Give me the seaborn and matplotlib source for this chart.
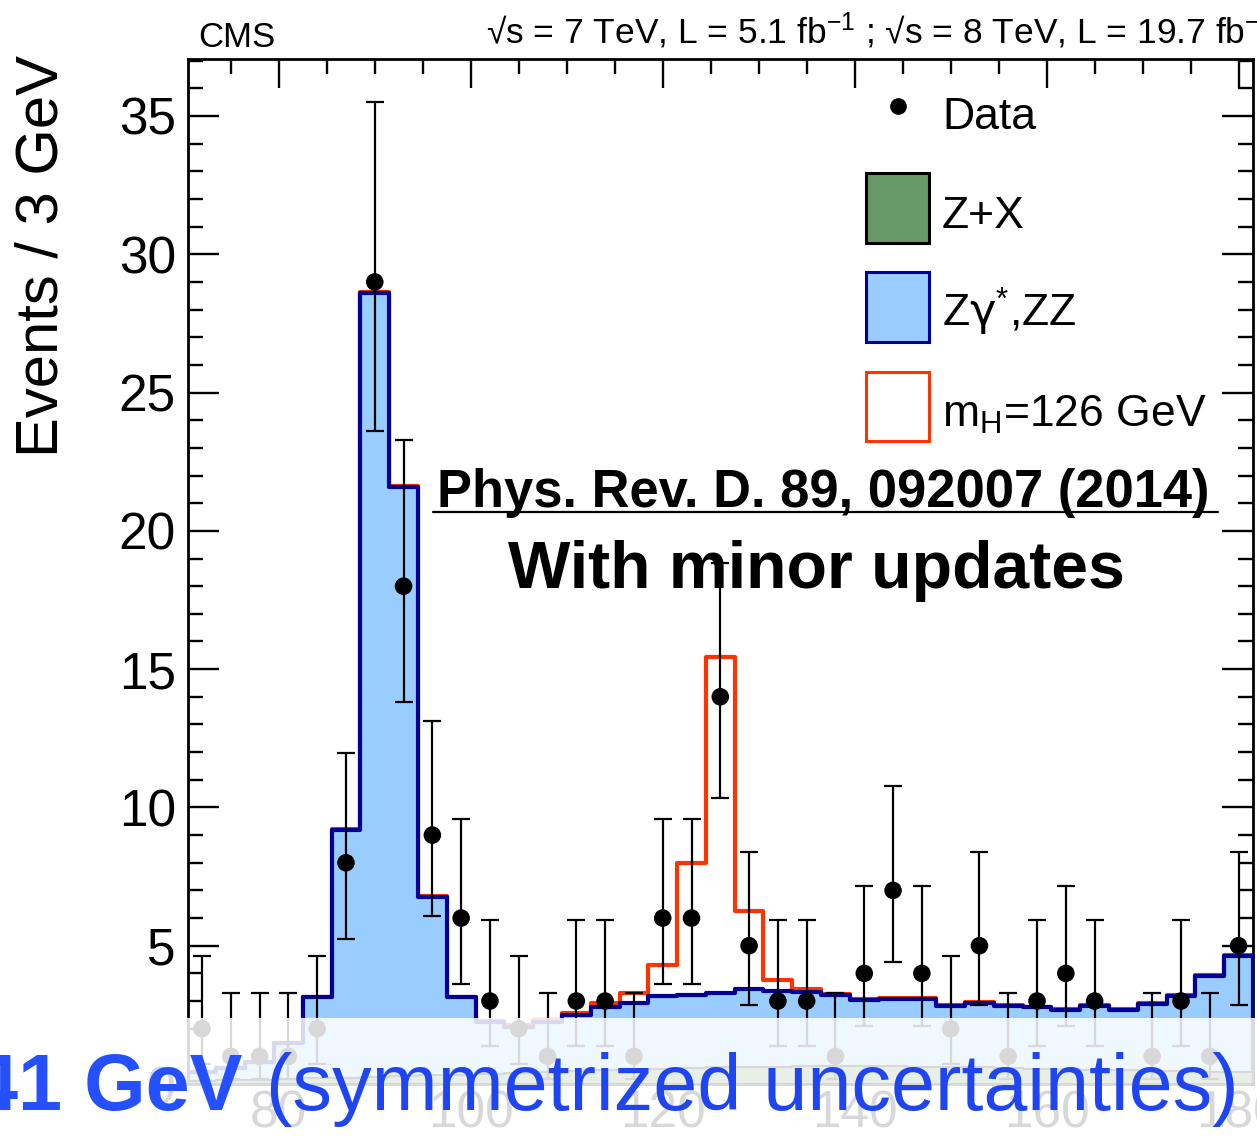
import numpy as np
import pandas as pd
import matplotlib
matplotlib.use("Agg")
import matplotlib.pyplot as plt
import seaborn as sns
from matplotlib.lines import Line2D
from matplotlib.patches import Patch, Rectangle
from matplotlib.legend_handler import HandlerPatch
from matplotlib.ticker import MultipleLocator

# ---------------- data ----------------
bin_edges = list(np.arange(70.5, 182.0, 3.0))          # 37 bins of 3 GeV
bin_centers = 0.5 * (np.array(bin_edges[:-1]) + np.array(bin_edges[1:]))

data_counts = [2, 1, 1, 1, 2, 8, 29, 18, 9, 6, 3, 2, 1, 3, 3, 1, 6, 6, 14, 5, 3, 3, 1,
               4, 7, 4, 2, 5, 1, 3, 4, 3, 0, 1, 3, 1, 5]
data_err_lo = [1.29, 0.83, 0.83, 0.83, 1.29, 2.77, 5.4, 4.2, 2.94, 2.38, 1.63, 1.29, 0.83,
               1.63, 1.63, 0.83, 2.38, 2.38, 3.65, 2.16, 1.63, 1.63, 0.83, 1.91, 2.58, 1.91,
               1.29, 2.16, 0.83, 1.63, 1.91, 1.63, 0.0, 0.83, 1.63, 0.83, 2.16]
data_err_hi = [2.64, 2.30, 2.30, 2.30, 2.64, 3.95, 6.5, 5.3, 4.11, 3.58, 2.92, 2.64, 2.30,
               2.92, 2.92, 2.30, 3.58, 3.58, 4.84, 3.38, 2.92, 2.92, 2.30, 3.16, 3.77, 3.16,
               2.64, 3.38, 2.30, 2.92, 3.16, 2.92, 0.0, 2.30, 2.92, 2.30, 3.38]

zx_yield = [0.12, 0.14, 0.16, 0.18, 0.20, 0.23, 0.26, 0.28, 0.31, 0.34, 0.37, 0.40, 0.43,
            0.47, 0.50, 0.53, 0.56, 0.58, 0.60, 0.62, 0.63, 0.64, 0.65, 0.65, 0.64, 0.63,
            0.62, 0.60, 0.58, 0.56, 0.54, 0.52, 0.50, 0.48, 0.46, 0.44, 0.42]
zz_yield = [0.31, 0.43, 0.64, 1.30, 2.93, 8.97, 28.34, 21.32, 6.46, 2.79, 1.88, 1.67, 1.82,
            2.03, 2.30, 2.39, 2.62, 2.64, 2.68, 2.80, 2.74, 2.70, 2.57, 2.39, 2.43, 2.44,
            2.21, 2.32, 2.25, 2.21, 2.14, 2.31, 2.18, 2.41, 2.73, 3.46, 4.21]
higgs_yield = [0.0, 0.0, 0.0, 0.0, 0.0, 0.01, 0.02, 0.02, 0.02, 0.03, 0.04, 0.05, 0.06,
               0.08, 0.14, 0.36, 1.12, 4.78, 12.16, 2.83, 0.39, 0.08, 0.05, 0.03, 0.03, 0.03,
               0.03, 0.03, 0.03, 0.03, 0.03, 0.03, 0.03, 0.03, 0.03, 0.03, 0.03]

y_ticks = [0, 5, 10, 15, 20, 25, 30, 35]
x_ticks = [80, 100, 120, 140, 160, 180]

data_label = "Data"
bkg_labels = ["Z+X", "Z$\\mathsf{\\gamma}^{*}$,ZZ", "m$_{\\mathrm{H}}$=126 GeV"]

# ---------------- style ----------------
sns.set_style("white")
plt.rcParams["font.family"] = ["Liberation Sans", "DejaVu Sans"]
plt.rcParams["mathtext.fontset"] = "custom"
plt.rcParams["mathtext.rm"] = "Liberation Sans"
plt.rcParams["mathtext.it"] = "Liberation Sans:italic"
plt.rcParams["mathtext.bf"] = "Liberation Sans:bold"
plt.rcParams["mathtext.sf"] = "DejaVu Sans"
for key in ["text.color", "axes.labelcolor", "xtick.color", "ytick.color",
            "axes.edgecolor"]:
    plt.rcParams[key] = "black"

W, H = 1257, 1148
fig = plt.figure(figsize=(W / 100, H / 100), dpi=100)
fig.patch.set_facecolor("white")

ax_l, ax_r, ax_t, ax_b = 187.6, 1253.0, 59.3, 1084.0
ax = fig.add_axes([ax_l / W, 1 - ax_b / H, (ax_r - ax_l) / W, (ax_b - ax_t) / H])

df = pd.DataFrame({
    "mass": bin_centers,
    "total": np.array(zx_yield) + np.array(zz_yield) + np.array(higgs_yield),
    "bkg": np.array(zx_yield) + np.array(zz_yield),
    "zx": np.array(zx_yield),
})

# stacked histogram drawn as cumulative layers (top layer first)
sns.histplot(data=df, x="mass", weights="total", bins=bin_edges, element="step",
             fill=True, facecolor="white", edgecolor="#ff3300", linewidth=3.0,
             alpha=1, ax=ax, zorder=2)
sns.histplot(data=df, x="mass", weights="bkg", bins=bin_edges, element="step",
             fill=True, facecolor="#99ccff", edgecolor="#000099", linewidth=3.0,
             alpha=1, ax=ax, zorder=3)
sns.histplot(data=df, x="mass", weights="zx", bins=bin_edges, element="step",
             fill=True, facecolor="#669966", edgecolor="#000000", linewidth=1.5,
             alpha=1, ax=ax, zorder=4)

# data points
counts = np.array(data_counts, dtype=float)
mask = counts > 0
ax.errorbar(bin_centers[mask], counts[mask],
            yerr=[np.array(data_err_lo)[mask], np.array(data_err_hi)[mask]],
            fmt="none", ecolor="black", elinewidth=1.6, capsize=6.5, capthick=1.6,
            zorder=6)
sns.scatterplot(x=bin_centers[mask], y=counts[mask], color="black", s=160,
                edgecolor="none", ax=ax, zorder=7)

ax.set_xlim(bin_edges[0], bin_edges[-1])
ax.set_ylim(0, 37.05)
ax.set_xlabel("")
ax.set_ylabel("")
ax.set_xticks(x_ticks)
ax.set_yticks(y_ticks)
ax.xaxis.set_minor_locator(MultipleLocator(5))
ax.yaxis.set_minor_locator(MultipleLocator(1))
for s in ax.spines.values():
    s.set_linewidth(2.0)
    s.set_color("black")
ax.tick_params(which="both", direction="in", top=True, right=True, bottom=True, left=True,
               width=1.7, color="black", labelcolor="black")
ax.tick_params(which="major", length=22, labelsize=37, pad=8.4)
ax.tick_params(axis="x", which="major", length=21, pad=4)
ax.tick_params(which="minor", length=11)
ax.grid(False)

# legends: data entry and the stacked-histogram entries
leg_data = ax.legend([Line2D([], [], marker="o", color="black", ls="none", ms=11)],
                     [data_label], loc="upper left",
                     bbox_to_anchor=(866 / W, 1 - 82 / H), bbox_transform=fig.transFigure,
                     frameon=False, fontsize=32, handlelength=1.42, handleheight=1.92,
                     handletextpad=0.29, borderpad=0, borderaxespad=0)
ax.add_artist(leg_data)


def raised_box(legend, orig_handle, xdescent, ydescent, width, height, fontsize):
    return Rectangle(xy=(-xdescent, -ydescent + 4.3), width=width, height=height)


box_handles = [
    Patch(facecolor="#669966", edgecolor="black", lw=2.2, joinstyle="round"),
    Patch(facecolor="#99ccff", edgecolor="#000099", lw=2.2, joinstyle="round"),
    Patch(facecolor="white", edgecolor="#ff3300", lw=2.2, joinstyle="round"),
]
ax.legend(box_handles, bkg_labels, loc="upper left",
          bbox_to_anchor=(866 / W, 1 - 179 / H), bbox_transform=fig.transFigure,
          frameon=False, fontsize=32, handlelength=1.42, handleheight=2.03,
          handletextpad=0.29, labelspacing=0.67, borderpad=0, borderaxespad=0,
          handler_map={Patch: HandlerPatch(patch_func=raised_box)})

# header texts
fig.text(198 / W, 1 - 47 / H, "CMS", fontsize=25, va="baseline", ha="left")
fig.text(486 / W, 1 - 43 / H,
         "√s = 7 TeV, L = 5.1 fb$^{-1}$ ; √s = 8 TeV, L = 19.7 fb$^{-1}$",
         fontsize=25.5, va="baseline", ha="left")
fig.text(14 / W, 1 - 55 / H, "Events / 3 GeV", rotation=90, fontsize=43,
         ha="left", va="top")

# annotation texts
fig.text(823.5 / W, 1 - 507 / H, "Phys. Rev. D. 89, 092007 (2014)", fontsize=37.8,
         fontweight="bold", ha="center", va="baseline", zorder=8)
fig.add_artist(Line2D([433 / W, 1218 / W], [1 - 512 / H, 1 - 512 / H], color="black",
                      lw=1.6, transform=fig.transFigure, zorder=8))
fig.text(816.5 / W, 1 - 588 / H, "With minor updates", fontsize=47.6,
         fontweight="bold", ha="center", va="baseline", zorder=8)

# semi-transparent overlay at the bottom and the blue caption
fig.add_artist(Rectangle((0, 0), 1, (H - 1018) / H, transform=fig.transFigure,
                         facecolor="white", edgecolor="none", alpha=0.85, zorder=20))
fig.text(-26 / W, 1 - 1110 / H, "41 GeV", fontsize=57, fontweight="bold",
         color="#2450ff", ha="left", va="baseline", zorder=21)
fig.text(266 / W, 1 - 1110 / H, "(symmetrized uncertainties)", fontsize=57,
         fontweight="normal", color="#1f45f2", ha="left", va="baseline", zorder=21)

fig.savefig("out.png", dpi=100)
